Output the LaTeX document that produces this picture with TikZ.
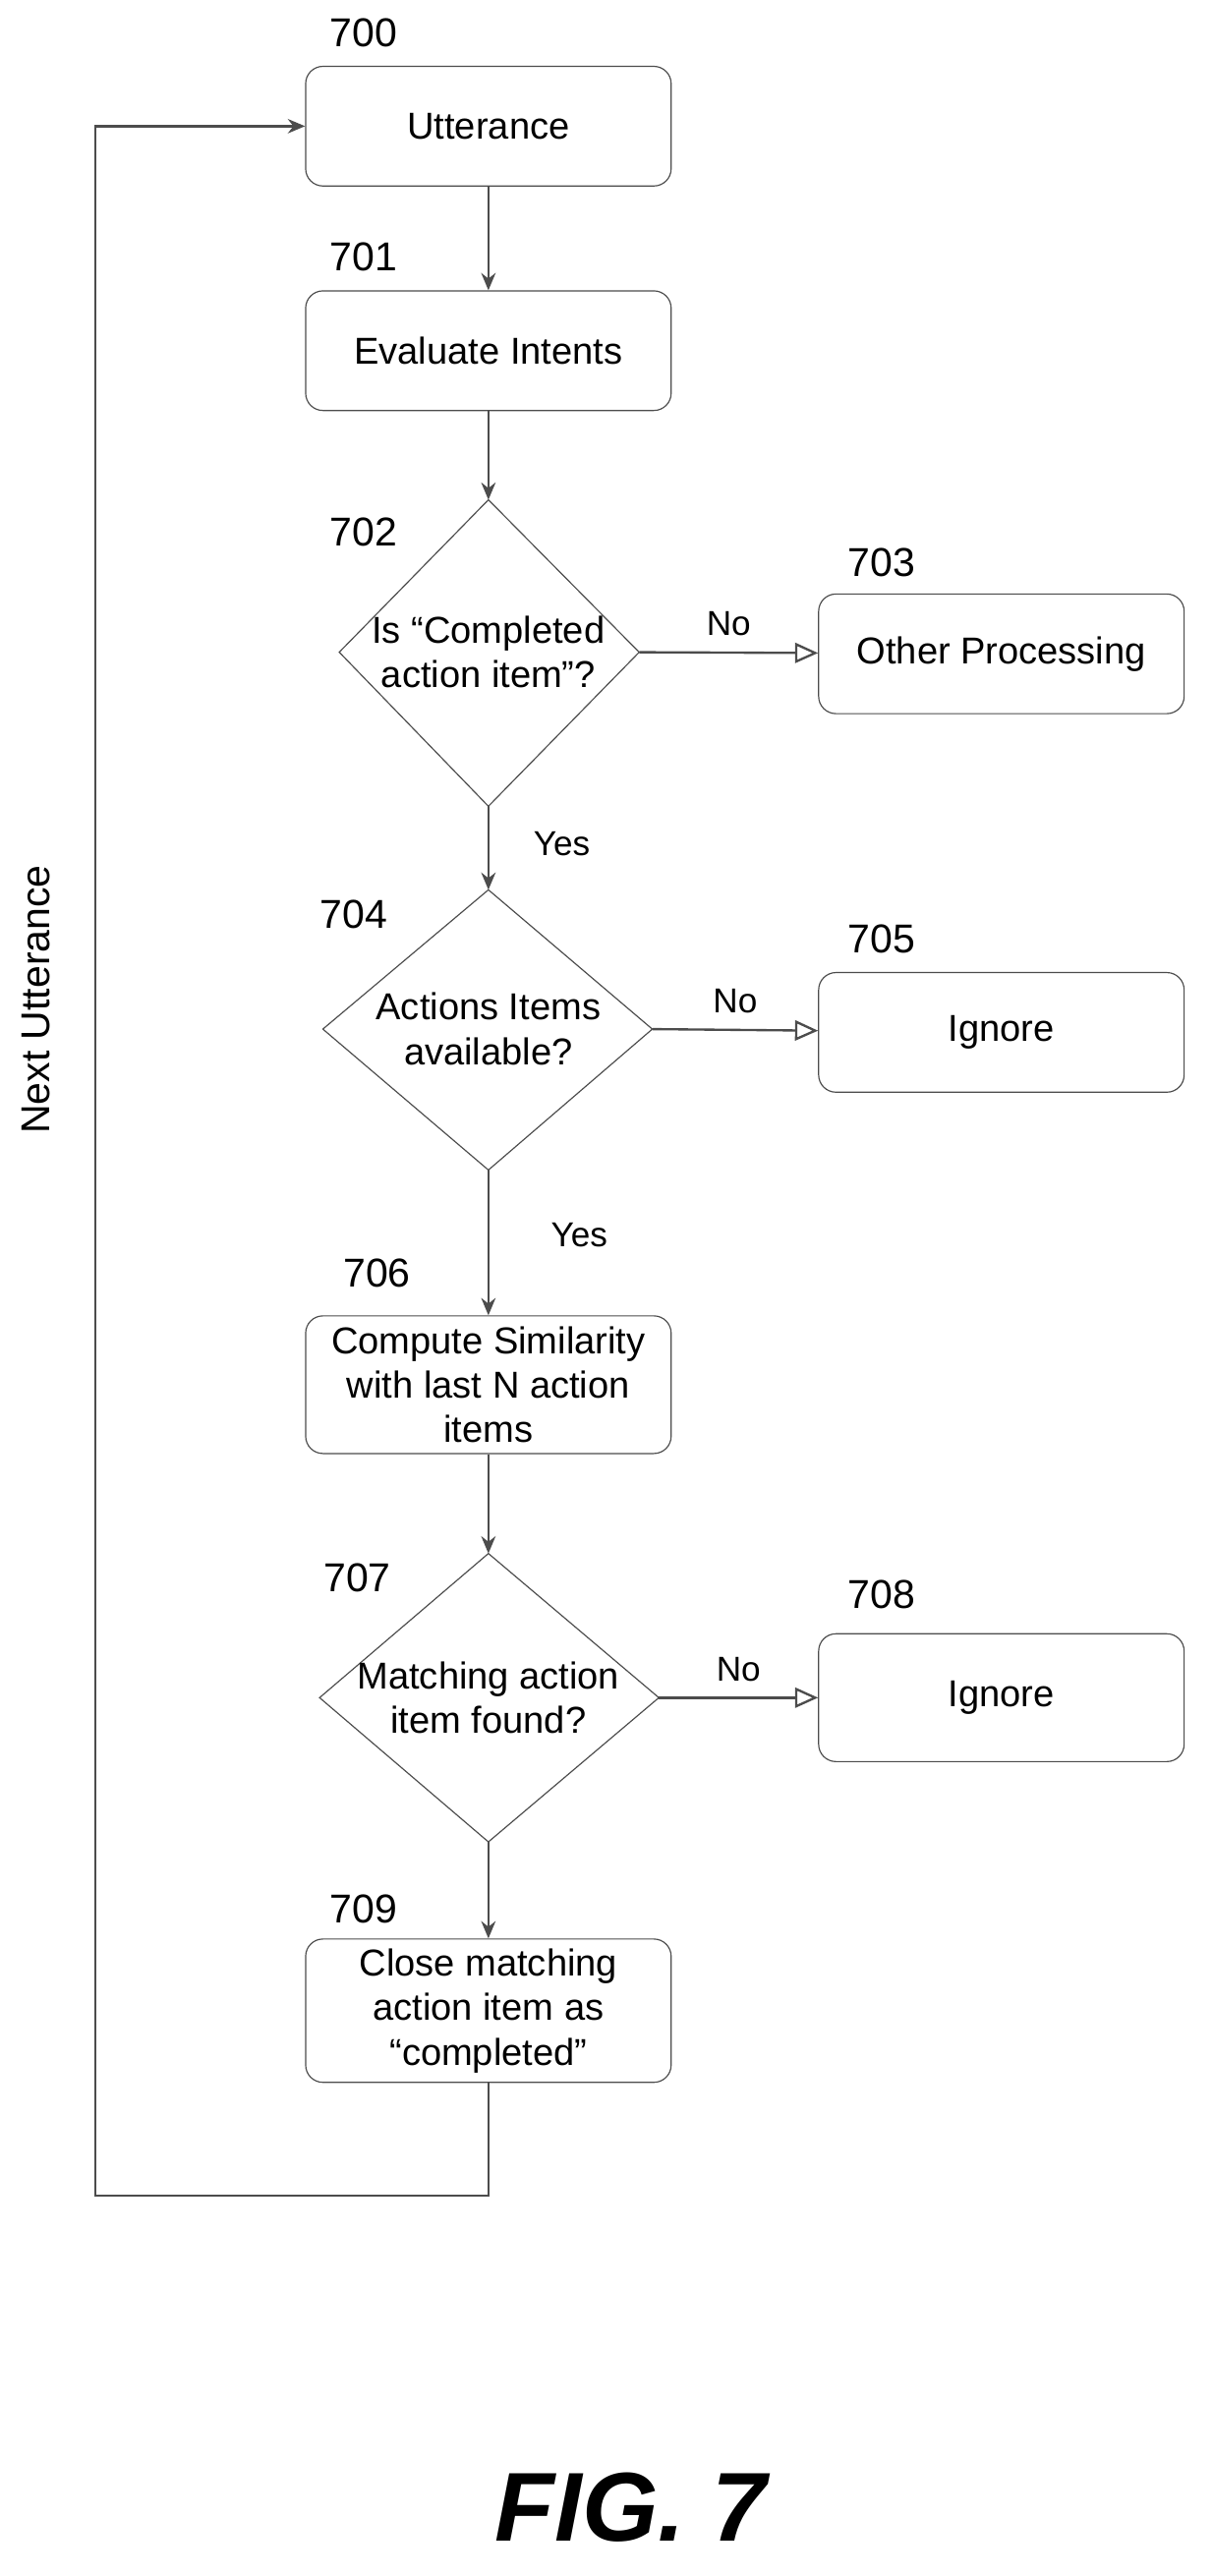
\documentclass[tikz,border=0pt]{standalone}
\usepackage{fontspec}
\setmainfont{Liberation Sans}
\usetikzlibrary{shapes.geometric,arrows.meta,positioning}
\newcommand{\px}{*0.02cm}
\tikzset{
  box/.style={draw=black!70,rounded corners=6pt,minimum width=223\px,minimum height=73\px,align=center,font=\fontsize{13}{15.5}\selectfont},
  dtext/.style={align=center,font=\fontsize{13}{15.5}\selectfont},
  lbl/.style={font=\fontsize{14}{16}\selectfont},
  ans/.style={font=\fontsize{12}{14}\selectfont},
  flow/.style={draw=black!70,line width=0.8pt,-{Stealth[length=6pt,width=5pt]}},
  nope/.style={draw=black!70,line width=0.8pt,-{Triangle[open,length=8pt,width=7pt]}}
}
\begin{document}
\begin{tikzpicture}[x=0.02cm,y=-0.02cm]
\useasboundingbox (0,0) rectangle (740,1572);
% boxes
\node[box] (utt) at (298,77) {Utterance};
\node[box] (eval) at (298,214) {Evaluate Intents};
\node[box] (other) at (611,399) {Other Processing};
\node[box] (ign1) at (611,630) {Ignore};
\node[box,minimum height=84\px] (comp) at (298,845) {Compute Similarity\\with last N action\\items};
\node[box,minimum height=78\px] (ign2) at (611,1036) {Ignore};
\node[box,minimum height=85\px] (close) at (298,1227) {Close matching\\action item as\\``completed''};
% decisions
\draw[black!70] (298,305) coordinate (d1t) -- (390,398) coordinate (d1r) -- (298,492) coordinate (d1b) -- (207,398) -- cycle;
\node[dtext] (d1) at (298,398) {Is ``Completed\\action item''?};
\draw[black!70] (298,543) coordinate (d2t) -- (398,628) coordinate (d2r) -- (298,714) coordinate (d2b) -- (197,628) -- cycle;
\node[dtext] (d2) at (298,628) {Actions Items\\available?};
\draw[black!70] (298,948) coordinate (d3t) -- (402,1036) coordinate (d3r) -- (298,1124) coordinate (d3b) -- (195,1036) -- cycle;
\node[dtext] (d3) at (298,1036) {Matching action\\item found?};
% numbers
\node[lbl] at (222,20) {700};
\node[lbl] at (222,157) {701};
\node[lbl] at (222,325) {702};
\node[lbl] at (538,343) {703};
\node[lbl] at (216,558) {704};
\node[lbl] at (538,573) {705};
\node[lbl] at (230,777) {706};
\node[lbl] at (218,963) {707};
\node[lbl] at (538,973) {708};
\node[lbl] at (222,1165) {709};
% connectors
\draw[flow] (utt) -- (eval);
\draw[flow] (eval) -- (d1t);
\draw[flow] (d1b) -- (d2t) node[ans,pos=0.45,right=12pt] {Yes};
\draw[flow] (d2b) -- (comp) node[ans,pos=0.45,right=18pt] {Yes};
\draw[flow] (comp) -- (d3t);
\draw[flow] (d3b) -- (close);
\draw[nope] (d1r) -- (other) node[ans,midway,above=2pt] {No};
\draw[nope] (d2r) -- (ign1) node[ans,midway,above=2pt] {No};
\draw[nope] (d3r) -- (ign2) node[ans,midway,above=2pt] {No};
\coordinate (lp1) at (298,1340);
\coordinate (lp2) at (58,1340);
\coordinate (lp3) at (58,77);
\draw[flow] (close.south) -- (lp1) -- (lp2) -- (lp3) -- (utt.west);
\node[lbl,rotate=90] at (22,610) {Next Utterance};
\node[font=\fontsize{34}{40}\selectfont\bfseries\itshape] at (385,1530) {FIG. 7};
\end{tikzpicture}
\end{document}
